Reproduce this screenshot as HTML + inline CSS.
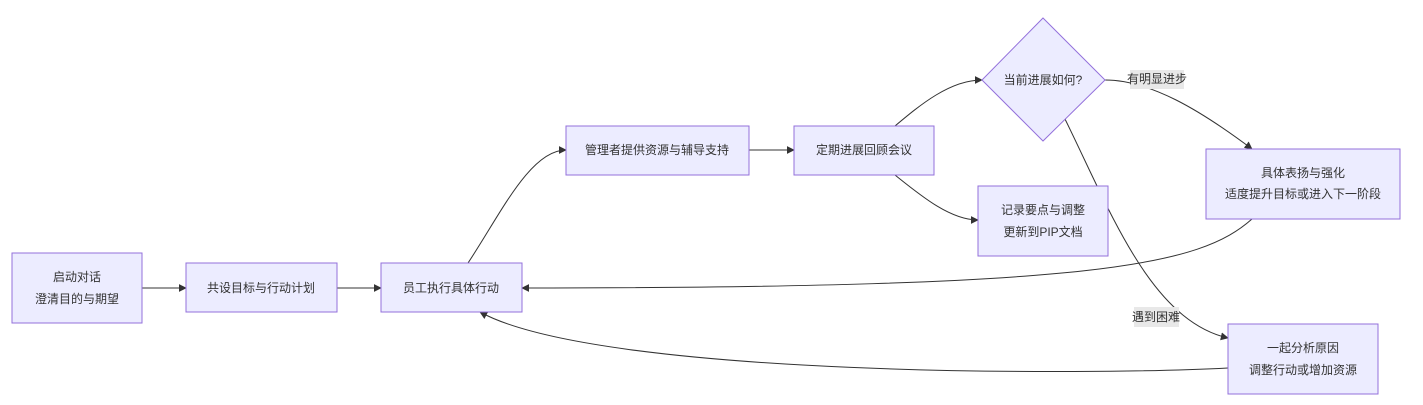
<!DOCTYPE html>
<html><head><meta charset="utf-8"><style>
html,body{margin:0;padding:0;background:#fff;width:1423px;height:405px;overflow:hidden}
svg text{font-family:"Liberation Sans","Noto Sans CJK SC",sans-serif;font-size:12px;fill:#333;text-anchor:middle;dominant-baseline:central}
</style></head><body>
<svg width="1423" height="405" viewBox="0 0 1423 405" xmlns="http://www.w3.org/2000/svg">
<defs><marker id="a" viewBox="0 0 10 10" refX="9" refY="5" markerWidth="8" markerHeight="8" orient="auto"><path d="M0,0L10,5L0,10z" fill="#333"/></marker></defs>
<g fill="none" stroke="#333" stroke-width="1" marker-end="url(#a)">
<path d="M142,288H186"/>
<path d="M337,288H381"/>
<path d="M468,263C500,215 530,150 566,150"/>
<path d="M749,150H794"/>
<path d="M895,126C920,105 950,80 982,80"/>
<path d="M895,175C920,195 950,220 978,220"/>
<path d="M1105,80C1150,80 1200,110 1252,149"/>
<path d="M1064,117C1110,210 1150,320 1228,338"/>
<path d="M1252,219C1200,265 1100,288 522,288"/>
<path d="M1228,368C1100,375 600,378 480,312"/>
</g>
<g fill="#ECECFF" stroke="#9370DB" stroke-width="1">
<rect x="12" y="253" width="130" height="70"/>
<rect x="186" y="263" width="151" height="49"/>
<rect x="381" y="263" width="141" height="49"/>
<rect x="566" y="126" width="183" height="49"/>
<rect x="794" y="126" width="140" height="49"/>
<polygon points="1043,18 1105,80 1043,141 982,80"/>
<rect x="978" y="186" width="130" height="70"/>
<rect x="1206" y="149" width="194" height="70"/>
<rect x="1228" y="324" width="150" height="70"/>
</g>
<rect x="1130" y="70" width="54" height="19" fill="#e8e8e8"/>
<rect x="1134" y="307" width="45" height="20" fill="#e8e8e8"/>
<text x="77" y="277">启动对话</text><text x="77" y="299">澄清目的与期望</text>
<text x="261" y="288">共设目标与行动计划</text>
<text x="451" y="288">员工执行具体行动</text>
<text x="657" y="150">管理者提供资源与辅导支持</text>
<text x="864" y="150">定期进展回顾会议</text>
<text x="1043" y="80">当前进展如何?</text>
<text x="1043" y="210">记录要点与调整</text><text x="1043" y="232">更新到PIP文档</text>
<text x="1303" y="173">具体表扬与强化</text><text x="1303" y="194">适度提升目标或进入下一阶段</text>
<text x="1303" y="348">一起分析原因</text><text x="1303" y="370">调整行动或增加资源</text>
<text x="1157" y="79">有明显进步</text>
<text x="1156" y="317">遇到困难</text>
</svg>
</body></html>
